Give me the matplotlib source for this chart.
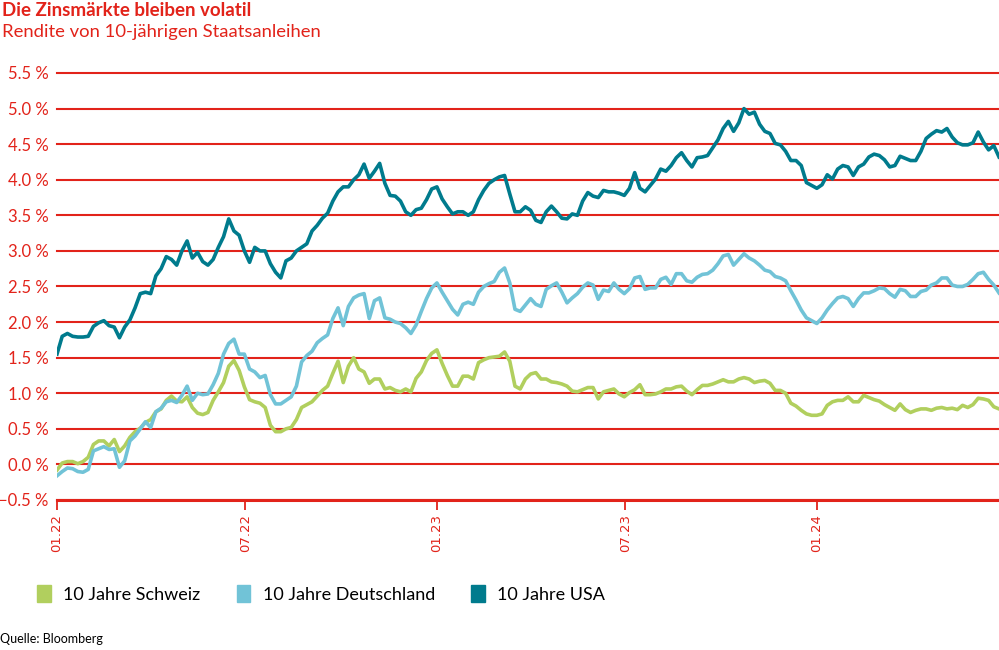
import matplotlib
matplotlib.use("Agg")
import matplotlib.pyplot as plt
from matplotlib.patches import Patch
import pandas as pd

usa = [1.55, 1.80, 1.84, 1.80, 1.79, 1.79, 1.80, 1.94, 1.99, 2.02,
       1.95, 1.93, 1.78, 1.93, 2.03, 2.20, 2.40, 2.42, 2.40, 2.65,
       2.75, 2.92, 2.88, 2.80, 3.00, 3.14, 2.90, 2.98, 2.85, 2.80,
       2.88, 3.05, 3.20, 3.45, 3.28, 3.22, 3.00, 2.84, 3.05, 3.00,
       3.00, 2.82, 2.70, 2.62, 2.86, 2.90, 3.00, 3.05, 3.10, 3.28,
       3.36, 3.46, 3.53, 3.70, 3.83, 3.90, 3.90, 4.00, 4.07, 4.22,
       4.02, 4.12, 4.23, 3.95, 3.78, 3.77, 3.70, 3.55, 3.50, 3.58,
       3.60, 3.72, 3.87, 3.90, 3.73, 3.62, 3.52, 3.55, 3.55, 3.50,
       3.55, 3.72, 3.85, 3.95, 4.00, 4.04, 4.06, 3.80, 3.55, 3.55,
       3.62, 3.57, 3.43, 3.40, 3.55, 3.63, 3.55, 3.46, 3.45, 3.52,
       3.50, 3.70, 3.82, 3.77, 3.75, 3.85, 3.83, 3.83, 3.81, 3.78,
       3.88, 4.10, 3.88, 3.83, 3.92, 4.01, 4.15, 4.12, 4.20, 4.31,
       4.38, 4.27, 4.18, 4.31, 4.32, 4.34, 4.45, 4.56, 4.72, 4.82,
       4.68, 4.80, 5.00, 4.92, 4.95, 4.78, 4.68, 4.65, 4.51, 4.49,
       4.40, 4.27, 4.27, 4.20, 3.96, 3.92, 3.88, 3.93, 4.07, 4.01,
       4.15, 4.20, 4.18, 4.06, 4.18, 4.22, 4.32, 4.36, 4.34, 4.28,
       4.18, 4.20, 4.33, 4.30, 4.27, 4.27, 4.40, 4.58, 4.64, 4.69,
       4.67, 4.72, 4.60, 4.52, 4.49, 4.49, 4.52, 4.67, 4.53, 4.42,
       4.48, 4.32]

deutschland = [-0.16, -0.10, -0.05, -0.06, -0.10, -0.11, -0.07, 0.19, 0.22, 0.25,
               0.21, 0.22, -0.04, 0.05, 0.33, 0.40, 0.50, 0.60, 0.52, 0.74,
               0.79, 0.88, 0.90, 0.87, 0.97, 1.10, 0.90, 1.00, 0.98, 0.99,
               1.12, 1.28, 1.55, 1.70, 1.76, 1.55, 1.55, 1.34, 1.30, 1.22,
               1.25, 0.98, 0.85, 0.85, 0.90, 0.95, 1.10, 1.44, 1.53, 1.59,
               1.71, 1.77, 1.82, 2.05, 2.20, 1.95, 2.22, 2.34, 2.38, 2.40,
               2.05, 2.30, 2.34, 2.06, 2.04, 2.00, 1.98, 1.92, 1.84, 1.96,
               2.15, 2.33, 2.48, 2.55, 2.42, 2.30, 2.18, 2.10, 2.25, 2.28,
               2.25, 2.42, 2.50, 2.54, 2.57, 2.70, 2.76, 2.55, 2.18, 2.15,
               2.24, 2.33, 2.25, 2.22, 2.46, 2.51, 2.55, 2.42, 2.27, 2.34,
               2.40, 2.49, 2.55, 2.52, 2.32, 2.45, 2.43, 2.55, 2.46, 2.40,
               2.47, 2.62, 2.64, 2.46, 2.48, 2.48, 2.60, 2.63, 2.53, 2.68,
               2.68, 2.58, 2.56, 2.63, 2.67, 2.68, 2.73, 2.82, 2.93, 2.95,
               2.80, 2.88, 2.96, 2.90, 2.86, 2.80, 2.73, 2.71, 2.64, 2.62,
               2.58, 2.44, 2.31, 2.17, 2.06, 2.02, 1.98, 2.06, 2.17, 2.26,
               2.34, 2.36, 2.33, 2.22, 2.33, 2.41, 2.41, 2.44, 2.48, 2.47,
               2.40, 2.35, 2.46, 2.44, 2.36, 2.36, 2.43, 2.45, 2.52, 2.55,
               2.62, 2.62, 2.52, 2.50, 2.50, 2.53, 2.60, 2.68, 2.70, 2.60,
               2.52, 2.41]

schweiz = [-0.08, 0.02, 0.04, 0.04, 0.01, 0.04, 0.10, 0.28, 0.33, 0.33,
           0.26, 0.35, 0.18, 0.26, 0.38, 0.46, 0.51, 0.59, 0.63, 0.74,
           0.78, 0.90, 0.96, 0.89, 0.88, 0.95, 0.80, 0.72, 0.70, 0.73,
           0.90, 1.02, 1.15, 1.38, 1.46, 1.32, 1.09, 0.91, 0.88, 0.86,
           0.80, 0.55, 0.46, 0.46, 0.50, 0.52, 0.63, 0.80, 0.84, 0.88,
           0.96, 1.04, 1.10, 1.28, 1.45, 1.15, 1.38, 1.50, 1.34, 1.30,
           1.14, 1.20, 1.20, 1.06, 1.08, 1.04, 1.02, 1.06, 1.02, 1.21,
           1.30, 1.46, 1.56, 1.61, 1.42, 1.25, 1.10, 1.10, 1.24, 1.24,
           1.20, 1.43, 1.47, 1.50, 1.51, 1.52, 1.58, 1.45, 1.10, 1.06,
           1.20, 1.27, 1.29, 1.20, 1.20, 1.16, 1.15, 1.13, 1.10, 1.03,
           1.02, 1.05, 1.08, 1.08, 0.92, 1.02, 1.04, 1.06, 0.99, 0.95,
           1.01, 1.05, 1.12, 0.98, 0.98, 0.99, 1.02, 1.06, 1.06, 1.09,
           1.10, 1.03, 0.98, 1.05, 1.11, 1.11, 1.13, 1.16, 1.19, 1.16,
           1.16, 1.20, 1.22, 1.20, 1.15, 1.17, 1.18, 1.14, 1.04, 1.04,
           1.00, 0.86, 0.82, 0.76, 0.71, 0.69, 0.69, 0.71, 0.83, 0.88,
           0.90, 0.90, 0.95, 0.88, 0.88, 0.97, 0.94, 0.91, 0.89, 0.84,
           0.80, 0.76, 0.85, 0.77, 0.73, 0.76, 0.78, 0.78, 0.76, 0.79,
           0.80, 0.78, 0.79, 0.77, 0.83, 0.80, 0.84, 0.93, 0.92, 0.90,
           0.81, 0.78]

daten = pd.date_range("2022-01-01", periods=len(usa), freq="5D")

yticks = [-0.5, 0.0, 0.5, 1.0, 1.5, 2.0, 2.5, 3.0, 3.5, 4.0, 4.5, 5.0, 5.5]
xticks = ["2022-01-01", "2022-07-01", "2023-01-01", "2023-07-01", "2024-01-01"]
xlabels = ["01.22", "07.22", "01.23", "07.23", "01.24"]

rot = "#e2231a"
gruen = "#b1cf5e"
hellblau = "#71c3d7"
petrol = "#007b8d"

plt.rcParams["font.family"] = ["Lato", "DejaVu Sans"]

fig = plt.figure(figsize=(9.99, 6.5), dpi=100)
ax = fig.add_axes([57 / 999, 150 / 650, 942 / 999, 427 / 650])

ax.plot(daten, schweiz, color=gruen, lw=2.6, solid_joinstyle="round", zorder=3)
ax.plot(daten, deutschland, color=hellblau, lw=2.6, solid_joinstyle="round", zorder=3)
ax.plot(daten, usa, color=petrol, lw=2.6, solid_joinstyle="round", zorder=4)

ax.set_ylim(-0.5, 5.5)
ax.set_xlim(daten[0], daten[-1])
ax.set_yticks(yticks)
ax.set_yticklabels([f"{v:.1f} %".replace("-", "\u2212") for v in yticks],
                   color=rot, fontsize=12)
ax.tick_params(axis="y", length=0, pad=6)
ax.yaxis.grid(True, color=rot, lw=1.5, zorder=1)
for gl in ax.get_ygridlines():
    gl.set_clip_on(False)
ax.set_axisbelow(True)

ax.set_xticks(pd.to_datetime(xticks))
ax.set_xticklabels(xlabels, rotation=90, color=rot, fontsize=9.5,
                   family="DejaVu Sans")
ax.tick_params(axis="x", direction="out", length=7, width=1.3, color=rot, pad=3)

for s in ["top", "right", "left"]:
    ax.spines[s].set_visible(False)
ax.spines["bottom"].set_color(rot)
ax.spines["bottom"].set_linewidth(2.2)

fig.text(0.002, 0.997, "Die Zinsmärkte bleiben volatil", color=rot,
         fontsize=13.5, fontweight="bold", va="top", ha="left")
fig.text(0.002, 0.963, "Rendite von 10-jährigen Staatsanleihen", color=rot,
         fontsize=13.3, va="top", ha="left")

handles = [Patch(color=gruen, label="10 Jahre Schweiz"),
           Patch(color=hellblau, label="10 Jahre Deutschland"),
           Patch(color=petrol, label="10 Jahre USA")]
fig.legend(handles=handles, loc="center left", bbox_to_anchor=(0.021, 0.086),
           ncol=3, frameon=False, fontsize=13, handlelength=0.75,
           handleheight=1.0, handletextpad=0.7, columnspacing=2.0)

fig.text(0.0, 0.008, "Quelle: Bloomberg", color="black", fontsize=9,
         ha="left", va="bottom")

fig.savefig("out.png", dpi=100)
